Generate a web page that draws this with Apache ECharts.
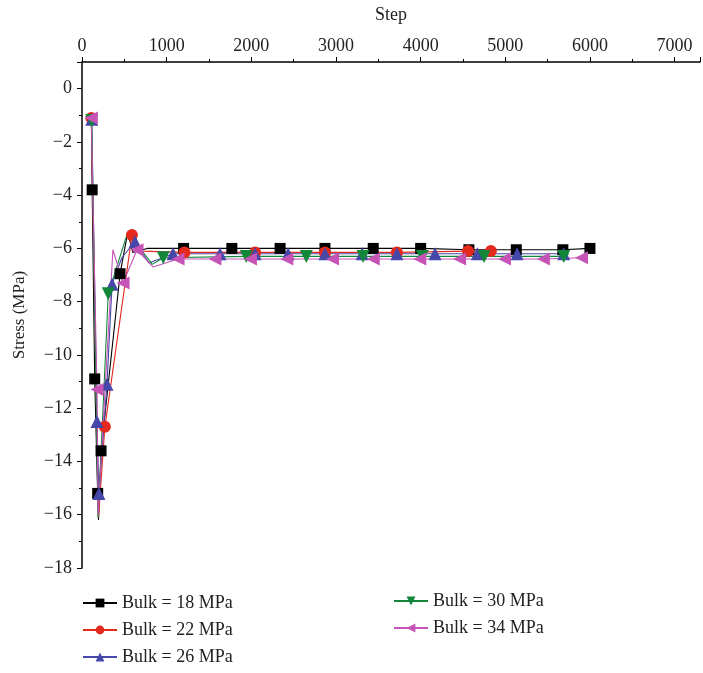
<!DOCTYPE html>
<html>
<head>
<meta charset="utf-8">
<script src="https://cdn.jsdelivr.net/npm/echarts@6/dist/echarts.min.js"></script>
<style>
    html, body { margin: 0; padding: 0; background: #fff; }
    #charts { width: 703px; height: 673px; }
</style>
</head>
<body>
<div id="charts"></div>
<script>
// [step, stress, marker?]
var bulk18 = [
    [110, -1.1, 0], [120, -3.8, 1], [150, -10.9, 1], [185, -15.2, 1], [195, -16.2, 0],
    [225, -13.6, 1], [450, -6.95, 1], [540, -5.4, 0], [600, -6.15, 0], [770, -6.0, 0],
    [1200, -6.0, 1], [1770, -6.0, 1], [2340, -6.0, 1], [2870, -6.0, 1], [3440, -6.0, 1],
    [4000, -6.0, 1], [4570, -6.05, 1], [5130, -6.05, 1], [5680, -6.05, 1], [6000, -6.0, 1]
];
var bulk22 = [
    [110, -1.1, 1], [195, -16.1, 0], [270, -12.7, 1], [590, -5.5, 1], [700, -6.1, 0],
    [1210, -6.15, 1], [2045, -6.15, 1], [2870, -6.15, 1], [3720, -6.15, 1], [4560, -6.1, 1],
    [4830, -6.1, 1]
];
var bulk26 = [
    [115, -1.15, 1], [177, -12.5, 1], [200, -15.2, 1], [295, -11.1, 1], [355, -7.35, 1],
    [470, -6.35, 0], [626, -5.75, 1], [790, -6.55, 0], [1075, -6.2, 1], [1630, -6.2, 1],
    [2045, -6.2, 1], [2435, -6.2, 1], [2870, -6.2, 1], [3310, -6.2, 1], [3720, -6.2, 1],
    [4170, -6.2, 1], [4670, -6.2, 1], [5140, -6.2, 1], [5690, -6.2, 1]
];
var bulk30 = [
    [115, -1.2, 1], [190, -16.1, 0], [310, -7.7, 1], [540, -5.4, 0], [830, -6.6, 0],
    [960, -6.35, 1], [1940, -6.3, 1], [2650, -6.3, 1], [3320, -6.3, 1], [4020, -6.3, 1],
    [4750, -6.3, 1], [5690, -6.3, 1]
];
var bulk34 = [
    [110, -1.1, 1], [177, -11.3, 1], [190, -16.0, 0], [365, -6.05, 0], [485, -7.3, 1],
    [650, -6.05, 1], [840, -6.7, 0], [1135, -6.4, 1], [1570, -6.4, 1], [1990, -6.4, 1],
    [2420, -6.4, 1], [2960, -6.4, 1], [3440, -6.4, 1], [3990, -6.4, 1], [4460, -6.4, 1],
    [4990, -6.4, 1], [5450, -6.4, 1], [5900, -6.35, 1]
];

var names = ['Bulk = 18 MPa', 'Bulk = 22 MPa', 'Bulk = 26 MPa', 'Bulk = 30 MPa', 'Bulk = 34 MPa'];
var colors = ['#000000', '#e4291d', '#4547a9', '#12873a', '#c653b6'];
var symbols = ['rect', 'circle', 'triangle', 'triangle', 'triangle'];
var rotates = [0, 0, 0, 180, 90];
var sizes = [11, 12, 13, 13, 13];
var allData = [bulk18, bulk22, bulk26, bulk30, bulk34];

var font = '"Liberation Serif", "DejaVu Serif", serif';

var minus = function (v) {
    return v < 0 ? '\u2212' + (-v) : String(v);
};

var series = allData.map(function (d, i) {
    return {
        name: names[i],
        type: 'line',
        symbol: symbols[i],
        symbolRotate: rotates[i],
        symbolSize: sizes[i],
        showAllSymbol: true,
        color: colors[i],
        lineStyle: {width: 1.1, color: colors[i]},
        itemStyle: {color: colors[i]},
        animation: false,
        data: d.map(function (p) {
            var item = {value: [p[0], p[1]]};
            if (!p[2]) {
                item.symbol = 'none';
            }
            return item;
        })
    };
});

var legendBase = {
    orient: 'vertical',
    padding: 0,
    itemWidth: 34,
    itemHeight: 11,
    itemGap: 7,
    textStyle: {fontFamily: font, fontSize: 18, color: '#222', lineHeight: 20}
};

var option = {
    backgroundColor: '#fff',
    grid: {left: 82, right: 3, top: 62, bottom: 105, containLabel: false, outerBoundsMode: 'none'},
    xAxis: {
        type: 'value',
        position: 'top',
        min: 0,
        max: 7300,
        interval: 1000,
        name: 'Step',
        nameLocation: 'middle',
        nameGap: 38,
        nameTextStyle: {fontFamily: font, fontSize: 18, color: '#222'},
        axisLine: {show: true, onZero: false, lineStyle: {color: '#000', width: 1.5}},
        axisTick: {show: true, length: 5, lineStyle: {color: '#000'}},
        minorTick: {show: true, splitNumber: 2, length: 3, lineStyle: {color: '#000'}},
        splitLine: {show: false},
        axisLabel: {fontFamily: font, fontSize: 18, color: '#222', margin: 7, showMaxLabel: false, formatter: minus}
    },
    yAxis: {
        type: 'value',
        min: -18,
        max: 1,
        interval: 2,
        name: 'Stress (MPa)',
        nameLocation: 'middle',
        nameGap: 54,
        nameTextStyle: {fontFamily: font, fontSize: 17, color: '#222'},
        axisLine: {show: true, onZero: false, lineStyle: {color: '#000', width: 1.5}},
        axisTick: {show: true, length: 5, lineStyle: {color: '#000'}},
        minorTick: {show: true, splitNumber: 2, length: 3, lineStyle: {color: '#000'}},
        splitLine: {show: false},
        axisLabel: {fontFamily: font, fontSize: 18, color: '#222', margin: 10, showMaxLabel: false, formatter: minus}
    },
    legend: [
        Object.assign({left: 82, top: 593, data: names.slice(0, 3)}, legendBase),
        Object.assign({left: 393, top: 591, data: names.slice(3)}, legendBase)
    ],
    series: series
};

var myChart = echarts.init(document.getElementById('charts'), null, {renderer: 'canvas'});
myChart.setOption(option);
</script>
</body>
</html>
